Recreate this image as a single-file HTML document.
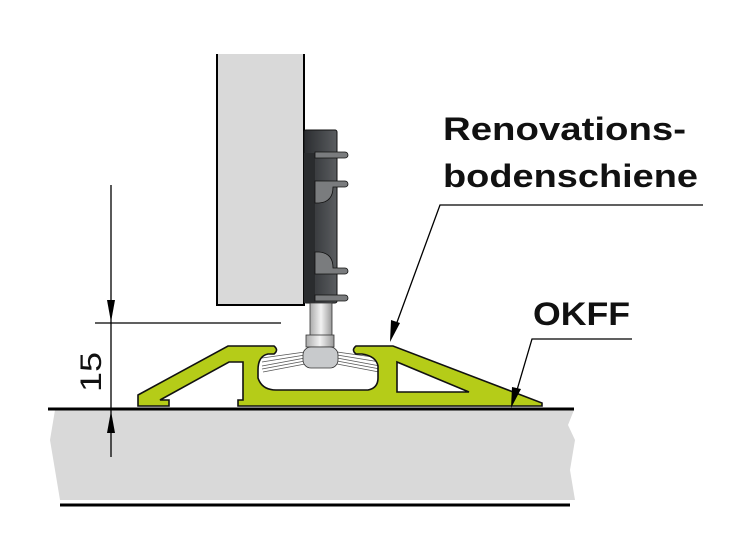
<!DOCTYPE html>
<html><head><meta charset="utf-8"><style>
html,body{margin:0;padding:0;background:#fff;width:743px;height:555px;overflow:hidden}
svg{display:block}
text{font-family:"Liberation Sans",sans-serif;font-weight:bold;fill:#111}
</style></head><body>
<svg width="743" height="555" viewBox="0 0 743 555" xmlns="http://www.w3.org/2000/svg">
<defs>
<linearGradient id="dk" x1="0" x2="1"><stop offset="0" stop-color="#2b2d30"/><stop offset="1" stop-color="#5a5d60"/></linearGradient>
<linearGradient id="st" x1="0" x2="1"><stop offset="0" stop-color="#aaa"/><stop offset="0.5" stop-color="#f2f2f2"/><stop offset="1" stop-color="#999"/></linearGradient>
</defs>
<path d="M55,410 L574,410 L568,425 L575,440 L570,470 L575,500 L60,500 L55,470 L50,440 Z" fill="#d9d9d9"/>
<line x1="48" y1="409" x2="574" y2="409" stroke="#000" stroke-width="3"/>
<line x1="60" y1="505" x2="570" y2="505" stroke="#000" stroke-width="3"/>
<rect x="217" y="54" width="87" height="251" fill="#d9d9d9"/>
<polyline points="217,54 217,305 304,305 304,54" fill="none" stroke="#000" stroke-width="2"/>
<rect x="304" y="130" width="33" height="173" rx="2" fill="url(#dk)" stroke="#111" stroke-width="1"/>
<rect x="304" y="153" width="11" height="150" fill="#2a2c2e"/>
<g fill="#7a7c7e" stroke="#111" stroke-width="0.8">
<path d="M315,152 h30 a3,3 0 0 1 0,6 h-30 z"/>
<path d="M315,181 h30 a3,3 0 0 1 0,6 h-12 q0,15 -14,16 h-4 z"/>
<path d="M315,252 h4 q14,1 14,16 h12 a3,3 0 0 1 0,6 h-30 z"/>
<path d="M315,295 h30 a3,3 0 0 1 0,6 h-30 z"/>
</g>
<rect x="310" y="303" width="22" height="33" fill="url(#st)" stroke="#333" stroke-width="0.8"/>
<g stroke="#555" stroke-width="0.8">
<line x1="305" y1="352" x2="262" y2="358"/><line x1="305" y1="355" x2="262" y2="362"/><line x1="305" y1="358" x2="262" y2="366"/><line x1="305" y1="361" x2="262" y2="369"/><line x1="305" y1="364" x2="263" y2="372"/>
<line x1="337" y1="352" x2="380" y2="358"/><line x1="337" y1="355" x2="380" y2="362"/><line x1="337" y1="358" x2="380" y2="366"/><line x1="337" y1="361" x2="380" y2="369"/><line x1="337" y1="364" x2="379" y2="372"/>
</g>
<rect x="306" y="335" width="28" height="12" fill="url(#st)" stroke="#333" stroke-width="0.8"/>
<rect x="303" y="347" width="35" height="21" rx="8" fill="#c8cacc" stroke="#333" stroke-width="0.8"/>
<path fill="#b5cc18" stroke="#111" stroke-width="1.6" fill-rule="evenodd" d="
M138,395 L228,346 L274,346 Q279,350 274,354 L268,354 Q258,356 258,370 L258,378 Q262,390 276,390 L368,390 Q378,388 378,378 L378,366 Q376,356 362,354 L356,354 Q351,350 356,346 L393,346 L542,403 L542,406 L238,406 L238,400 L243,400 L243,362 L229,362 L160,400 L169,400 L169,406 L138,406 Z
M397,362 L397,392 L469,392 Z"/>
<g stroke="#000" stroke-width="1.3" fill="none">
<line x1="111" y1="185" x2="111" y2="457"/>
<line x1="95" y1="323" x2="281" y2="323"/>
</g>
<path d="M111,322 L107,300 L115,300 Z" fill="#000"/>
<path d="M111,411 L107,433 L115,433 Z" fill="#000"/>
<text x="0" y="0" transform="translate(101,392) rotate(-90)" font-size="30" style="font-weight:normal" textLength="40" lengthAdjust="spacingAndGlyphs">15</text>
<text x="443" y="140" font-size="32" textLength="243" lengthAdjust="spacingAndGlyphs">Renovations-</text>
<text x="443" y="187" font-size="32" textLength="255" lengthAdjust="spacingAndGlyphs">bodenschiene</text>
<text x="533" y="325" font-size="32" textLength="97" lengthAdjust="spacingAndGlyphs">OKFF</text>
<g stroke="#000" stroke-width="1.3" fill="none">
<polyline points="703,205 440,205 396,325"/>
<polyline points="632,339 532,339 517,390"/>
</g>
<path d="M390,342 L391,320 L400,323 Z" fill="#000"/>
<path d="M511,408 L512,387 L521,389 Z" fill="#000"/>
</svg>
</body></html>
